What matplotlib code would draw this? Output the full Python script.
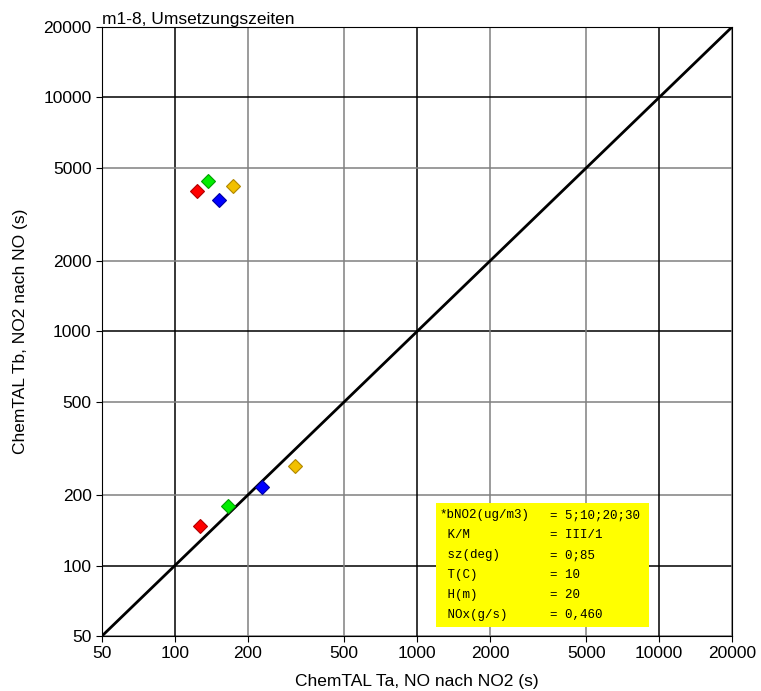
import matplotlib.pyplot as plt
from matplotlib.patches import Rectangle

plt.rcParams['font.family'] = ['Liberation Sans', 'DejaVu Sans']

ticks = [50, 100, 200, 500, 1000, 2000, 5000, 10000, 20000]
decades = [100, 1000, 10000]

colors = ["#ff0000", "#00ee00", "#0000ff", "#f2c000"]
edges = ["#b00000", "#00a000", "#0000a0", "#b08800"]

# upper cluster: Ta, Tb
ta_1 = [123, 137, 152, 174]
tb_1 = [3990, 4400, 3650, 4190]
# lower cluster
ta_2 = [127, 166, 229, 314]
tb_2 = [148, 180, 217, 266]

info_keys = ["*bNO2(ug/m3)", " K/M", " sz(deg)", " T(C)", " H(m)", " NOx(g/s)"]
info_vals = ["= 5;10;20;30", "= III/1", "= 0;85", "= 10", "= 20", "= 0,460"]


def main():
    fig = plt.figure(figsize=(7.61, 6.91), dpi=100)
    ax = fig.add_axes([0.134, 0.0796, 0.828, 0.8814])
    ax.set_xscale("log")
    ax.set_yscale("log")
    ax.set_xlim(50, 20000)
    ax.set_ylim(50, 20000)

    for t in ticks:
        c = "black" if t in decades else "#808080"
        ax.axvline(t, color=c, lw=1.1, zorder=1)
        ax.axhline(t, color=c, lw=1.1, zorder=1)

    ax.plot([50, 20000], [50, 20000], color="black", lw=2, zorder=2)

    for i in range(4):
        ax.plot(ta_1[i], tb_1[i], marker="D", ms=7.5, color=colors[i],
                mec=edges[i], mew=0.8, ls="none", zorder=3)
        ax.plot(ta_2[i], tb_2[i], marker="D", ms=7.5, color=colors[i],
                mec=edges[i], mew=0.8, ls="none", zorder=3)

    ax.xaxis.set_major_locator(plt.FixedLocator(ticks))
    ax.yaxis.set_major_locator(plt.FixedLocator(ticks))
    ax.xaxis.set_minor_locator(plt.NullLocator())
    ax.yaxis.set_minor_locator(plt.NullLocator())
    ax.set_xticklabels([str(t) for t in ticks])
    ax.set_yticklabels([str(t) for t in ticks])
    ax.tick_params(direction="out", length=4, labelsize=12.5, colors="black")

    ax.set_xlabel("ChemTAL Ta, NO nach NO2 (s)", fontsize=12.5, labelpad=9)
    ax.set_ylabel("ChemTAL Tb, NO2 nach NO (s)", fontsize=12.5, labelpad=11)
    ax.set_title("m1-8, Umsetzungszeiten", fontsize=12.5, loc="left", pad=2)

    ax.add_patch(Rectangle((0.530, 0.015), 0.338, 0.203, transform=ax.transAxes,
                           facecolor="#ffff00", edgecolor="none", zorder=4))
    y0 = 0.198
    for k, v in zip(info_keys, info_vals):
        ax.text(0.536, y0, k, transform=ax.transAxes, family="Liberation Mono",
                fontsize=9, va="center", zorder=5)
        ax.text(0.711, y0, v, transform=ax.transAxes, family="Liberation Mono",
                fontsize=9, va="center", zorder=5)
        y0 -= 0.0328

    fig.savefig("out.png", dpi=100)


if __name__ == "__main__":
    main()
